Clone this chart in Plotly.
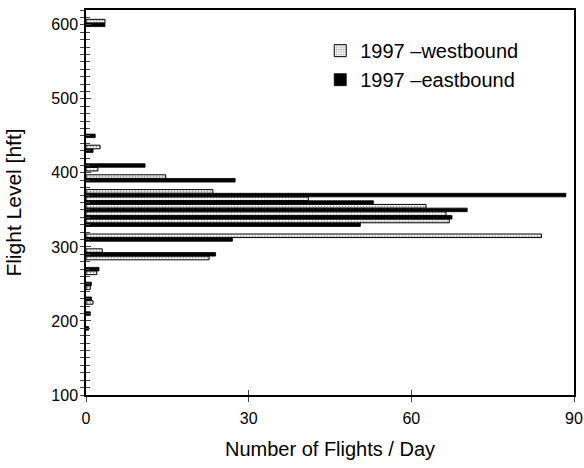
import plotly.graph_objects as go

# Flight levels [hft] and flights/day
west_levels = [600, 430, 400, 390, 370, 360, 350, 340, 330, 310, 290, 280, 260, 240, 220]
west_counts = [3.5, 2.6, 2.2, 14.7, 23.4, 41.0, 62.7, 66.4, 67.0, 84.0, 3.0, 22.7, 2.0, 0.8, 1.3]

east_levels = [600, 450, 430, 410, 390, 370, 360, 350, 340, 330, 310, 290, 270, 250, 230, 210, 190]
east_counts = [3.5, 1.7, 1.3, 10.9, 27.5, 88.5, 53.0, 70.3, 67.5, 50.6, 27.0, 23.9, 2.4, 1.0, 1.0, 0.8, 0.5]

x_ticks = [0, 30, 60, 90]
y_ticks = [100, 200, 300, 400, 500, 600]

FONT = "Liberation Sans, Arial, Helvetica, sans-serif"

fig = go.Figure()
fig.add_trace(go.Bar(
    y=east_levels, x=east_counts, orientation="h",
    name="1997 \u2013eastbound",
    width=4.8, offset=-2.4,
    marker=dict(color="black", line=dict(color="black", width=0.8)),
))
fig.add_trace(go.Bar(
    y=west_levels, x=west_counts, orientation="h",
    name="1997 \u2013westbound",
    width=4.8, offset=2.6,
    marker=dict(color="white", line=dict(color="black", width=1),
                pattern=dict(shape=".", fgcolor="#444444", bgcolor="white",
                             size=3, solidity=0.35)),
))
# invisible helper trace so the overlay axes (for crossing ticks) are drawn
fig.add_trace(go.Scatter(x=[0], y=[100], xaxis="x2", yaxis="y2", mode="markers",
                         marker=dict(opacity=0), showlegend=False, hoverinfo="skip"))

axis_common = dict(showgrid=False, zeroline=False, linecolor="black", automargin=False)

fig.update_layout(
    width=584, height=468,
    margin=dict(l=86, r=10, t=10, b=73),
    paper_bgcolor="white", plot_bgcolor="white",
    barmode="overlay",
    font=dict(family=FONT, size=16, color="black"),
    showlegend=True,
    legend=dict(x=0.48, y=0.945, xanchor="left", yanchor="top",
                traceorder="reversed", bgcolor="rgba(0,0,0,0)",
                font=dict(size=20), itemwidth=30, tracegroupgap=0),
    xaxis=dict(range=[0, 90], tickvals=x_ticks, ticks="outside", ticklen=5,
               tickwidth=1, showline=True, linewidth=1.5, mirror=True,
               ticklabelstandoff=3,
               title=dict(text="Number of Flights / Day", standoff=16,
                          font=dict(size=20)),
               tickfont=dict(size=16), **axis_common),
    yaxis=dict(range=[100, 620], tickvals=y_ticks, ticks="outside", ticklen=4,
               tickwidth=1.2, showline=True, linewidth=1.5, mirror=True,
               ticklabelstandoff=-1,
               minor=dict(dtick=10, tick0=100, ticks="outside", ticklen=4, tickwidth=1),
               title=dict(text="Flight Level [hft]", standoff=24, font=dict(size=21)),
               tickfont=dict(size=16), **axis_common),
    xaxis2=dict(range=[0, 90], overlaying="x", anchor="y2", side="bottom",
                tickvals=x_ticks, ticks="inside", ticklen=5, tickwidth=1,
                showticklabels=False, showline=False, **axis_common),
    yaxis2=dict(range=[100, 620], overlaying="y", anchor="x2", side="left",
                tickvals=y_ticks, ticks="inside", ticklen=5, tickwidth=1.2,
                minor=dict(dtick=10, tick0=100, ticks="inside", ticklen=4, tickwidth=1),
                showticklabels=False, showline=False, **axis_common),
)

fig.write_html("out.html")
